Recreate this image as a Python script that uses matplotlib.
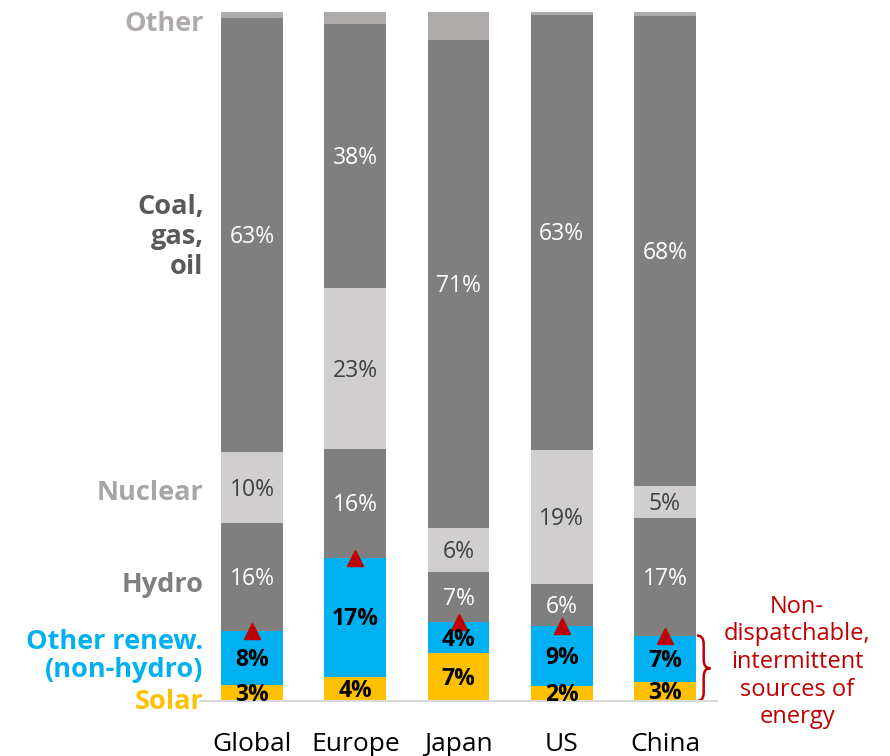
import numpy as np
import matplotlib.pyplot as plt
from matplotlib.path import Path
from matplotlib.patches import PathPatch

plt.rcParams['font.family'] = ['Open Sans', 'DejaVu Sans']

regions = ['Global', 'Europe', 'Japan', 'US', 'China']

# share of generation, %
solar = [2.3, 3.5, 7.0, 2.2, 2.8]
renew = [7.8, 17.3, 4.4, 8.7, 6.7]
hydro = [15.7, 15.8, 7.3, 6.1, 17.0]
nuclear = [10.3, 23.3, 6.4, 19.5, 4.7]
fossil = [63.1, 38.4, 70.9, 63.1, 68.2]
other = [0.8, 1.7, 4.0, 0.4, 0.6]

solar_lbl = ['3%', '4%', '7%', '2%', '3%']
renew_lbl = ['8%', '17%', '4%', '9%', '7%']
hydro_lbl = ['16%', '16%', '7%', '6%', '17%']
nuclear_lbl = ['10%', '23%', '6%', '19%', '5%']
fossil_lbl = ['63%', '38%', '71%', '63%', '68%']

series = [
    (solar, '#FFC000', solar_lbl, 'black', 'bold'),
    (renew, '#00B0F0', renew_lbl, 'black', 'bold'),
    (hydro, '#7F7F7F', hydro_lbl, 'white', 'normal'),
    (nuclear, '#D0CECE', nuclear_lbl, '#404040', 'normal'),
    (fossil, '#7F7F7F', fossil_lbl, 'white', 'normal'),
    (other, '#AEAAAA', None, None, None),
]

fig = plt.figure(figsize=(8.9, 7.56), dpi=100)
ax = fig.add_axes([200 / 890, 55 / 756, 517 / 890, 689 / 756])

x = np.arange(len(regions))
bottom = np.zeros(len(regions))
for vals, col, lbls, tcol, tw in series:
    vals = np.array(vals)
    ax.bar(x, vals, 0.6, bottom=bottom, color=col, linewidth=0)
    if lbls is not None:
        for i in range(len(x)):
            ax.text(x[i], bottom[i] + vals[i] / 2 - 0.3, lbls[i], ha='center', va='center',
                    fontsize=16.5, color=tcol, fontweight=tw)
    bottom = bottom + vals

# red markers on top of non-dispatchable block
tops = np.array(solar) + np.array(renew)
ax.plot(x, tops, '^', color='#C00000', markersize=11, linestyle='none')

ax.set_xlim(-0.504, 4.504)
ax.set_ylim(0, 100)
ax.set_yticks([])
ax.set_xticks(x)
ax.set_xticklabels(regions, fontsize=19)
ax.tick_params(axis='x', length=0, pad=22)
for s in ['top', 'right', 'left']:
    ax.spines[s].set_visible(False)
ax.spines['bottom'].set_color('#D9D9D9')
ax.spines['bottom'].set_linewidth(1.5)

# category labels on the left, next to Global bar
lx = -0.47
ax.text(lx, 98.3, 'Other', ha='right', va='center', fontsize=19.5, fontweight='bold', color='#AEAAAA')
ax.text(lx, 67.3, 'Coal,\ngas,\noil', ha='right', va='center', fontsize=19.5, fontweight='bold',
        color='#595959', linespacing=1.2)
ax.text(lx, 30.2, 'Nuclear', ha='right', va='center', fontsize=19.5, fontweight='bold', color='#A6A6A6')
ax.text(lx, 16.9, 'Hydro', ha='right', va='center', fontsize=19.5, fontweight='bold', color='#7F7F7F')
ax.text(lx, 6.6, 'Other renew.\n(non-hydro)', ha='right', va='center', fontsize=19.5, fontweight='bold',
        color='#00B0F0', linespacing=1.1)
ax.text(lx, -0.2, 'Solar', ha='right', va='center', fontsize=19.5, fontweight='bold', color='#FFC000')

# brace next to China
x0, x1 = 4.31, 4.44
y0, y1 = 0.0, tops[4]
ym = (y0 + y1) / 2
xm = (x0 + x1) / 2
verts = [(x0, y0), (xm, y0), (xm, y0 + 1.2), (xm, ym - 1.2), (xm, ym), (x1, ym),
         (xm, ym), (xm, ym + 1.2), (xm, y1 - 1.2), (xm, y1), (x0, y1)]
codes = [Path.MOVETO, Path.CURVE3, Path.CURVE3, Path.LINETO, Path.CURVE3, Path.CURVE3,
         Path.CURVE3, Path.CURVE3, Path.LINETO, Path.CURVE3, Path.CURVE3]
ax.add_patch(PathPatch(Path(verts, codes), facecolor='none', edgecolor='#C00000',
                       linewidth=1.8, clip_on=False))

fig.text(797 / 890, 1 - 662 / 756, 'Non-\ndispatchable,\nintermittent\nsources of\nenergy',
         ha='center', va='center', fontsize=17, color='#C00000', linespacing=1.2)

fig.savefig('out.png', dpi=100)
